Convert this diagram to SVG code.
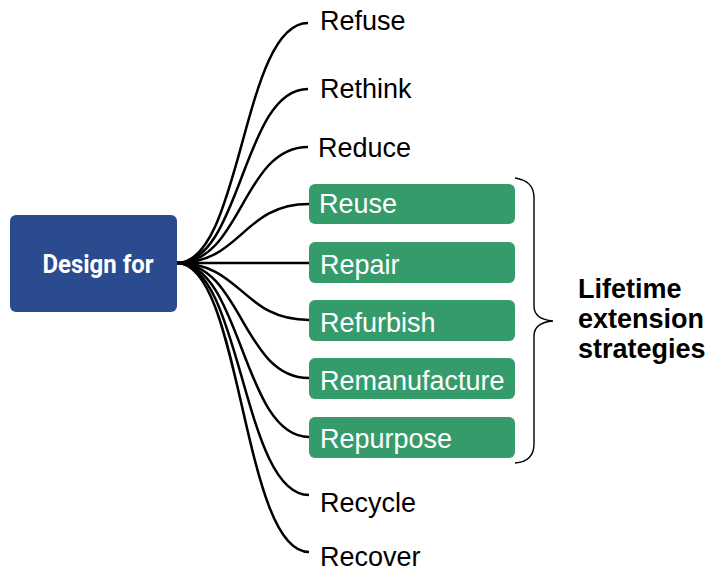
<svg xmlns="http://www.w3.org/2000/svg" width="709" height="571" viewBox="0 0 709 571">
<style>
.lbl{font-family:"Liberation Sans",Arial,sans-serif;font-size:27px;fill:#000}
.glbl{font-family:"Liberation Sans",Arial,sans-serif;font-size:27px;fill:#fff}
.gbox{fill:#369b6a}
.conn{fill:none;stroke:#000;stroke-width:2.5}
.side{font-family:"Liberation Sans",Arial,sans-serif;font-size:27px;font-weight:bold;fill:#000}
</style>
<rect width="709" height="571" fill="#fff"/>
<g id="connectors">
<path class="conn" d="M177,263 C242,263 242,23 308,23"/>
<path class="conn" d="M177,263 C242,263 242,89 308,89"/>
<path class="conn" d="M177,263 C242,263 242,147 308,147"/>
<path class="conn" d="M177,263 C242,263 242,204 309,204"/>
<path class="conn" d="M177,263 L309,263"/>
<path class="conn" d="M177,263 C242,263 242,320 309,320"/>
<path class="conn" d="M177,263 C242,263 242,378 309,378"/>
<path class="conn" d="M177,263 C242,263 242,437 309,437"/>
<path class="conn" d="M177,263 C242,263 242,495 309,495"/>
<path class="conn" d="M177,263 C242,263 242,552 309,552"/>
</g>
<g id="design-for">
<rect x="10" y="215" width="167" height="97" rx="6" fill="#2a4b8f"/>
<text x="98" y="273" text-anchor="middle" font-family="Roboto,'Liberation Sans',sans-serif" font-size="26" font-weight="bold" fill="#fff" textLength="111" lengthAdjust="spacingAndGlyphs">Design for</text>
</g>
<g id="refuse"><text class="lbl" x="320" y="30">Refuse</text></g>
<g id="rethink"><text class="lbl" x="320" y="98">Rethink</text></g>
<g id="reduce"><text class="lbl" x="318" y="157">Reduce</text></g>
<g id="reuse"><rect class="gbox" x="309" y="184" width="206" height="40" rx="6"/><text class="glbl" x="319" y="213">Reuse</text></g>
<g id="repair"><rect class="gbox" x="309" y="242" width="206" height="41" rx="6"/><text class="glbl" x="320" y="274">Repair</text></g>
<g id="refurbish"><rect class="gbox" x="309" y="300" width="206" height="41" rx="6"/><text class="glbl" x="320" y="332">Refurbish</text></g>
<g id="remanufacture"><rect class="gbox" x="309" y="358" width="206" height="41" rx="6"/><text class="glbl" x="320" y="390">Remanufacture</text></g>
<g id="repurpose"><rect class="gbox" x="309" y="417" width="206" height="41" rx="6"/><text class="glbl" x="320" y="448">Repurpose</text></g>
<g id="recycle"><text class="lbl" x="320" y="512">Recycle</text></g>
<g id="recover"><text class="lbl" x="320" y="566">Recover</text></g>
<g id="brace">
<path d="M515,178 C528,180 534,186 534,198 L534,306 C534,315 541,320 553,321 C541,322 534,327 534,336 L534,444 C534,456 528,462 515,463" fill="none" stroke="#000" stroke-width="1.4"/>
</g>
<g id="lifetime">
<text class="side" x="578" y="298">Lifetime</text>
<text class="side" x="578" y="328">extension</text>
<text class="side" x="578" y="358">strategies</text>
</g>
</svg>
